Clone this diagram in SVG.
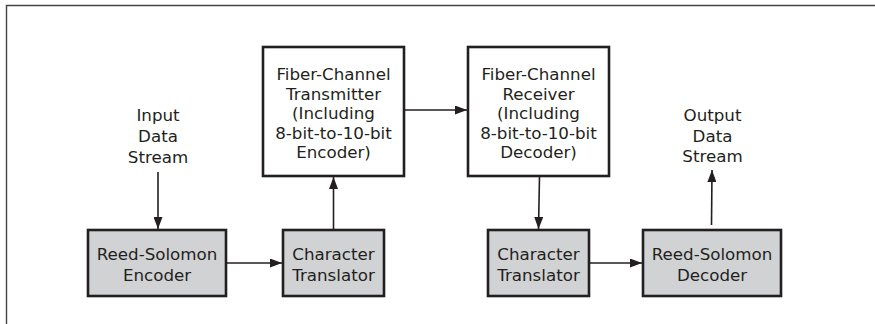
<svg xmlns="http://www.w3.org/2000/svg" width="875" height="324" viewBox="0 0 875 324">
<defs>
<style>
text{font-family:"DejaVu Sans","Open Sans",sans-serif;font-size:16.7px;fill:#231f20;text-anchor:middle}
.box{fill:#fff;stroke:#231f20;stroke-width:2.6}
.gbox{fill:#d1d2d4;stroke:#231f20;stroke-width:2.6}
.conn{stroke:#231f20;stroke-width:1.6;fill:none;marker-end:url(#ah)}
.frame{stroke:#444;stroke-width:1.4;fill:none}
</style>
<marker id="ah" viewBox="0 0 12 9" refX="12" refY="4.5" markerWidth="12" markerHeight="9" markerUnits="userSpaceOnUse" orient="auto">
<path d="M0,0 L12,4.5 L0,9 Z" fill="#231f20"/>
</marker>
</defs>
<rect width="875" height="324" fill="#fff"/>
<path class="frame" d="M875,5.5 H6.5 V324"/>
<g id="input-label">
<text x="158" y="121">Input</text>
<text x="158" y="142">Data</text>
<text x="158" y="163">Stream</text>
</g>
<g id="output-label">
<text x="712.5" y="121">Output</text>
<text x="712.5" y="142">Data</text>
<text x="712.5" y="162">Stream</text>
</g>
<g id="rs-encoder">
<rect class="gbox" x="88" y="230" width="138" height="66"/>
<text x="157" y="260">Reed-Solomon</text>
<text x="157" y="281">Encoder</text>
</g>
<g id="char-translator-1">
<rect class="gbox" x="283" y="230" width="101" height="66"/>
<text x="333.5" y="260">Character</text>
<text x="333.5" y="281">Translator</text>
</g>
<g id="fc-transmitter">
<rect class="box" x="263" y="47" width="141" height="129"/>
<text x="333.5" y="80">Fiber-Channel</text>
<text x="333.5" y="99.5">Transmitter</text>
<text x="333.5" y="119">(Including</text>
<text x="333.5" y="138.5">8-bit-to-10-bit</text>
<text x="333.5" y="158">Encoder)</text>
</g>
<g id="fc-receiver">
<rect class="box" x="468" y="47" width="141" height="129"/>
<text x="538.5" y="80">Fiber-Channel</text>
<text x="538.5" y="99.5">Receiver</text>
<text x="538.5" y="119">(Including</text>
<text x="538.5" y="138.5">8-bit-to-10-bit</text>
<text x="538.5" y="158">Decoder)</text>
</g>
<g id="char-translator-2">
<rect class="gbox" x="488" y="230" width="101" height="66"/>
<text x="538.5" y="260">Character</text>
<text x="538.5" y="281">Translator</text>
</g>
<g id="rs-decoder">
<rect class="gbox" x="643" y="230" width="138" height="66"/>
<text x="712" y="260">Reed-Solomon</text>
<text x="712" y="281">Decoder</text>
</g>
<g id="connectors">
<line class="conn" x1="158" y1="172" x2="158" y2="229"/>
<line class="conn" x1="226" y1="263" x2="282" y2="263"/>
<line class="conn" x1="333.5" y1="230" x2="333.5" y2="177"/>
<line class="conn" x1="404" y1="110" x2="467" y2="110"/>
<line class="conn" x1="539.5" y1="176" x2="538.5" y2="229"/>
<line class="conn" x1="589" y1="263" x2="642" y2="263"/>
<line class="conn" x1="711.5" y1="225" x2="712" y2="170"/>
</g>
</svg>
